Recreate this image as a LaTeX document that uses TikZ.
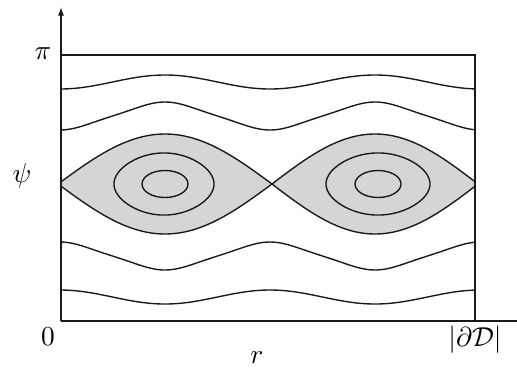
\documentclass[tikz,border=0pt]{standalone}
\usetikzlibrary{arrows.meta}
\begin{document}
\begin{tikzpicture}[x=0.4pt,y=-0.4pt,
  curve/.style={line width=0.55pt, black!90},
  eyefill/.style={fill=gray!33},
  lbl/.style={font=\fontsize{10.5}{12}\selectfont, inner sep=0pt}]
\useasboundingbox (0,0) rectangle (517,374);
% separatrix eyes (filled)
\path[curve, eyefill, draw]
  plot[domain=61:272, samples=90, smooth] (\x, {184 - 50*cos((\x-165)/107*90)})
  -- plot[domain=272:61, samples=90, smooth] (\x, {184 + 50*cos((\x-165)/107*90)}) -- cycle;
\path[curve, eyefill, draw]
  plot[domain=272:475, samples=90, smooth] (\x, {184 - 50*cos((\x-375)/103*90)})
  -- plot[domain=475:272, samples=90, smooth] (\x, {184 + 50*cos((\x-375)/103*90)}) -- cycle;
% middle rings
\draw[curve] plot[domain=0:180, samples=60, smooth] ({164 + 50*cos(\x)}, {184 - 32.5*sqrt(abs(cos(85*cos(\x)) - cos(85)))})
  -- plot[domain=180:360, samples=60, smooth] ({164 + 50*cos(\x)}, {184 + 32.5*sqrt(abs(cos(85*cos(\x)) - cos(85)))}) -- cycle;
\draw[curve] plot[domain=0:180, samples=60, smooth] ({378 + 52*cos(\x)}, {184 - 32.5*sqrt(abs(cos(85*cos(\x)) - cos(85)))})
  -- plot[domain=180:360, samples=60, smooth] ({378 + 52*cos(\x)}, {184 + 32.5*sqrt(abs(cos(85*cos(\x)) - cos(85)))}) -- cycle;
% inner ellipses
\draw[curve] (165,184) ellipse [x radius=23, y radius=13.5];
\draw[curve] (378,184) ellipse [x radius=23, y radius=13.5];
% rotating curves
\draw[curve] plot[domain=61:475, samples=120, smooth] (\x, {82 - 7*cos((\x-165)/210*360)});
\draw[curve] plot[domain=61:475, samples=120, smooth] (\x, {116 - 14/1.06*(cos((\x-165)/210*360) + 0.06*cos(3*(\x-165)/210*360))});
\draw[curve] plot[domain=61:475, samples=120, smooth] (\x, {256 + 14/1.06*(cos((\x-165)/210*360) + 0.06*cos(3*(\x-165)/210*360))});
\draw[curve] plot[domain=61:475, samples=120, smooth] (\x, {297 + 7*cos((\x-165)/210*360)});
% frame and axes
\coordinate (O) at (61,321);
\coordinate (ytop) at (61,7);
\coordinate (pi) at (61,55);
\coordinate (tr) at (475,55);
\coordinate (br) at (475,321);
\coordinate (xend) at (517,321);
\draw[curve] (pi) -- (tr) -- (br);
\draw[curve] (O) -- (xend);
\draw[curve, -{Latex[length=3.4pt,width=2.4pt]}] (O) -- (ytop);
% labels
\node[lbl] (lpi) at (43,54) {$\pi$};
\node[lbl] (lpsi) at (22,176) {$\psi$};
\node[lbl] (lzero) at (48,337) {$0$};
\node[lbl] (lr) at (257,358) {$r$};
\node[lbl] (ldd) at (475,340) {$|\partial\mathcal{D}|$};
\end{tikzpicture}
\end{document}
